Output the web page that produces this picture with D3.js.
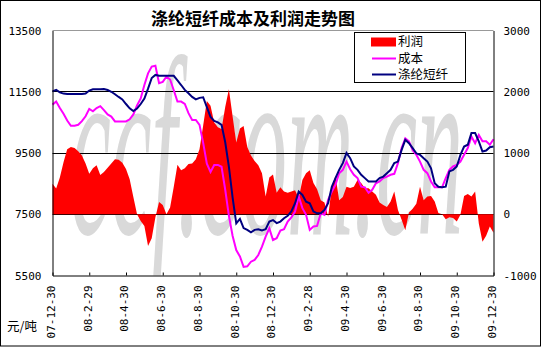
<!DOCTYPE html>
<html>
<head>
<meta charset="utf-8">
<script src="https://cdn.jsdelivr.net/npm/d3@7"></script>
<style>
  html, body { margin: 0; padding: 0; background: #ffffff; }
  svg { display: block; }
</style>
</head>
<body>
<svg id="chart" width="545" height="348"></svg>
<script>
// ---------------- data ----------------
const title = "涤纶短纤成本及利润走势图";
const unitLabel = "元/吨";
const seriesNames = ["利润", "成本", "涤纶短纤"];
const tickLabels = ["07-12-30","08-2-29","08-4-30","08-6-30","08-8-30","08-10-30",
  "08-12-30","09-2-28","09-4-30","09-6-30","09-8-30","09-10-30","09-12-30"];
const leftTicks = [5500, 7500, 9500, 11500, 13500];
const rightTicks = [-1000, 0, 1000, 2000, 3000];
const gridValues = [7500, 9500, 11500];
const watermark = "ccf.com.cn";

// 利润 (right axis)
const profit = [500,420,600,850,1060,1100,1080,1030,960,830,
  660,750,800,640,690,760,830,900,890,840,
  740,570,280,0,-110,-190,-520,-390,-50,200,
  150,0,110,450,810,720,750,820,830,900,
  1060,1450,1850,1770,1500,1420,1390,1750,2040,1600,
  1170,1400,1440,1100,960,870,800,670,290,600,
  650,350,440,370,350,370,390,260,560,670,
  720,510,410,230,190,-40,450,630,230,280,
  450,430,450,560,510,425,425,370,320,190,
  150,120,210,370,70,-90,-260,30,90,170,
  450,230,290,300,210,20,0,-80,-50,-60,
  -120,-10,300,330,290,370,-150,-450,-350,-200,
  -300];

// 成本 (left axis)
const cost = [11080,11180,10970,10780,10560,10390,10390,10420,10540,10700,
  10940,10860,10970,11030,10900,10760,10690,10530,10530,10530,
  10530,10600,10760,11050,11280,11720,12100,12320,12350,11780,
  11820,11990,11900,11550,11180,11180,11100,10800,10580,10580,
  10420,9830,9150,8880,9110,9110,9050,8300,7450,6800,
  6330,6120,5780,5800,5950,6010,6170,6440,6770,7040,
  6660,6720,6970,7010,7260,7400,7590,8080,7700,7480,
  6990,7100,7120,7530,7480,7970,8240,8460,8840,8950,
  9220,8970,8790,8680,8400,8380,8200,8300,8510,8570,
  8680,8730,8790,8820,9170,9660,9980,9880,9600,9440,
  9220,8950,8840,8570,8380,8380,8380,8680,8950,9060,
  9110,9220,9440,9660,10040,9820,10090,9880,9880,9770,
  9950];

// 涤纶短纤 (left axis)
const fiber = [11510,11560,11480,11440,11430,11430,11430,11430,11430,11440,
  11540,11580,11580,11580,11590,11560,11500,11420,11330,11250,
  11100,10960,10870,10950,11100,11280,11600,11950,12050,12020,
  12020,12020,12020,12020,11870,11720,11560,11450,11330,11250,
  11300,11320,11000,10680,10550,10500,10420,9850,9050,8050,
  7200,7350,7050,6990,6910,6990,7010,6970,7010,7260,
  7310,7210,7260,7370,7450,7590,7860,8240,8130,7910,
  7860,7590,7530,7530,7640,7860,8400,8680,8950,9170,
  9500,9330,9060,8950,8790,8680,8570,8570,8570,8680,
  8730,8840,8950,9170,9220,9600,9930,9820,9660,9490,
  9440,9330,9220,9000,8510,8400,8380,8400,8900,8950,
  9060,9440,9710,9770,10150,10150,9880,9550,9580,9690,
  9710];

// ---------------- layout ----------------
const L = 52.5, R = 493.5, T = 30.5, B = 275.5;
const svg = d3.select("#chart");
const numFont = "'DejaVu Sans Mono', monospace";
const cjkFont = "'Noto Sans CJK SC', sans-serif";

const n = cost.length;
const x = d3.scaleLinear().domain([0, n - 1]).range([L, R]);
const yL = d3.scaleLinear().domain([5500, 13500]).range([B, T]);
const yR = d3.scaleLinear().domain([-1000, 3000]).range([B, T]);
const tickIdx = d3.range(tickLabels.length).map(i => i * (n - 1) / (tickLabels.length - 1));

svg.append("rect").attr("x", 0).attr("y", 0).attr("width", 545).attr("height", 348).attr("fill", "#fff");

svg.append("defs").append("clipPath").attr("id", "plotClip")
  .append("rect").attr("x", L).attr("y", T).attr("width", R - L).attr("height", B - T);

// watermark
svg.append("g").attr("clip-path", "url(#plotClip)")
  .append("text")
  .attr("transform", "translate(70,234) scale(0.36,0.94)")
  .attr("font-family", "'Liberation Serif', serif")
  .attr("font-style", "italic")
  .attr("font-size", 270)
  .attr("fill", "#d9d9d9")
  .attr("textLength", 393 / 0.36)
  .attr("lengthAdjust", "spacingAndGlyphs")
  .text(watermark);

// gridlines
svg.append("g").selectAll("line").data(gridValues).join("line")
  .attr("x1", L).attr("x2", R)
  .attr("y1", d => Math.floor(yL(d)) + 0.5).attr("y2", d => Math.floor(yL(d)) + 0.5)
  .attr("stroke", "#000").attr("stroke-width", 1);

// profit area
const area = d3.area()
  .x((d, i) => x(i))
  .y0(yR(0))
  .y1(d => yR(d));
svg.append("path").datum(profit).attr("d", area).attr("fill", "#ff0000");

// lines
const lineL = d3.line().x((d, i) => x(i)).y(d => yL(d));
svg.append("path").datum(cost).attr("d", lineL)
  .attr("fill", "none").attr("stroke", "#ff00ff").attr("stroke-width", 2).attr("stroke-linejoin", "miter");
svg.append("path").datum(fiber).attr("d", lineL)
  .attr("fill", "none").attr("stroke", "#000080").attr("stroke-width", 2).attr("stroke-linejoin", "miter");

// top border (grey)
svg.append("line").attr("x1", L).attr("x2", R).attr("y1", T).attr("y2", T)
  .attr("stroke", "#999").attr("stroke-width", 1);

// left axis
const gL = svg.append("g").attr("transform", `translate(${L},0)`)
  .call(d3.axisLeft(yL).tickValues(leftTicks).tickSize(0).tickPadding(11).tickFormat(d3.format("d")));
gL.select(".domain").attr("stroke", "#000");
gL.selectAll("text").attr("font-family", numFont).attr("font-size", 11).attr("fill", "#000");

// right axis
const gR = svg.append("g").attr("transform", `translate(${R},0)`)
  .call(d3.axisRight(yR).tickValues(rightTicks).tickSize(0).tickPadding(10).tickFormat(d => d < 0 ? "-" + Math.abs(d) : String(d)));
gR.select(".domain").attr("stroke", "#000");
gR.selectAll("text").attr("font-family", numFont).attr("font-size", 11).attr("fill", "#000");

// bottom axis
const gB = svg.append("g").attr("transform", `translate(0,${B})`)
  .call(d3.axisBottom(x).tickValues(tickIdx).tickSizeInner(-3).tickSizeOuter(0)
    .tickFormat((d, i) => tickLabels[i]));
gB.select(".domain").attr("stroke", "#000");
gB.selectAll(".tick line").attr("stroke", "#000");
gB.selectAll("text")
  .attr("font-family", numFont).attr("font-size", 11).attr("fill", "#000")
  .attr("transform", "rotate(-90)")
  .attr("text-anchor", "end")
  .attr("x", -10).attr("y", -2).attr("dy", "0.35em");

// title
svg.append("text").attr("x", 253).attr("y", 24.5).attr("text-anchor", "middle")
  .attr("font-family", cjkFont).attr("font-weight", "bold").attr("font-size", 17)
  .attr("fill", "#000").text(title);

// unit label
svg.append("text").attr("x", 7).attr("y", 330.5)
  .attr("font-family", cjkFont).attr("font-size", 12.5).attr("fill", "#000").text(unitLabel);

// legend
const lg = svg.append("g");
lg.append("rect").attr("x", 354.5).attr("y", 32.5).attr("width", 111).attr("height", 50)
  .attr("fill", "#fff").attr("stroke", "#000").attr("stroke-width", 1);
const legendY = [41.5, 58.5, 74.5];
lg.append("rect").attr("x", 371).attr("y", 37.5).attr("width", 25).attr("height", 9).attr("fill", "#ff0000");
lg.append("line").attr("x1", 372).attr("x2", 396).attr("y1", legendY[1]).attr("y2", legendY[1])
  .attr("stroke", "#ff00ff").attr("stroke-width", 2);
lg.append("line").attr("x1", 372).attr("x2", 396).attr("y1", legendY[2]).attr("y2", legendY[2])
  .attr("stroke", "#000080").attr("stroke-width", 2);
lg.selectAll("text.lt").data(seriesNames).join("text").attr("class", "lt")
  .attr("x", 398).attr("y", (d, i) => legendY[i]).attr("dy", "0.36em")
  .attr("font-family", cjkFont).attr("font-size", 12.5).attr("fill", "#000")
  .text(d => d);

// outer border
svg.append("rect").attr("x", 0.5).attr("y", 0.5).attr("width", 540).attr("height", 345.5)
  .attr("fill", "none").attr("stroke", "#000").attr("stroke-width", 1);
</script>
</body>
</html>
